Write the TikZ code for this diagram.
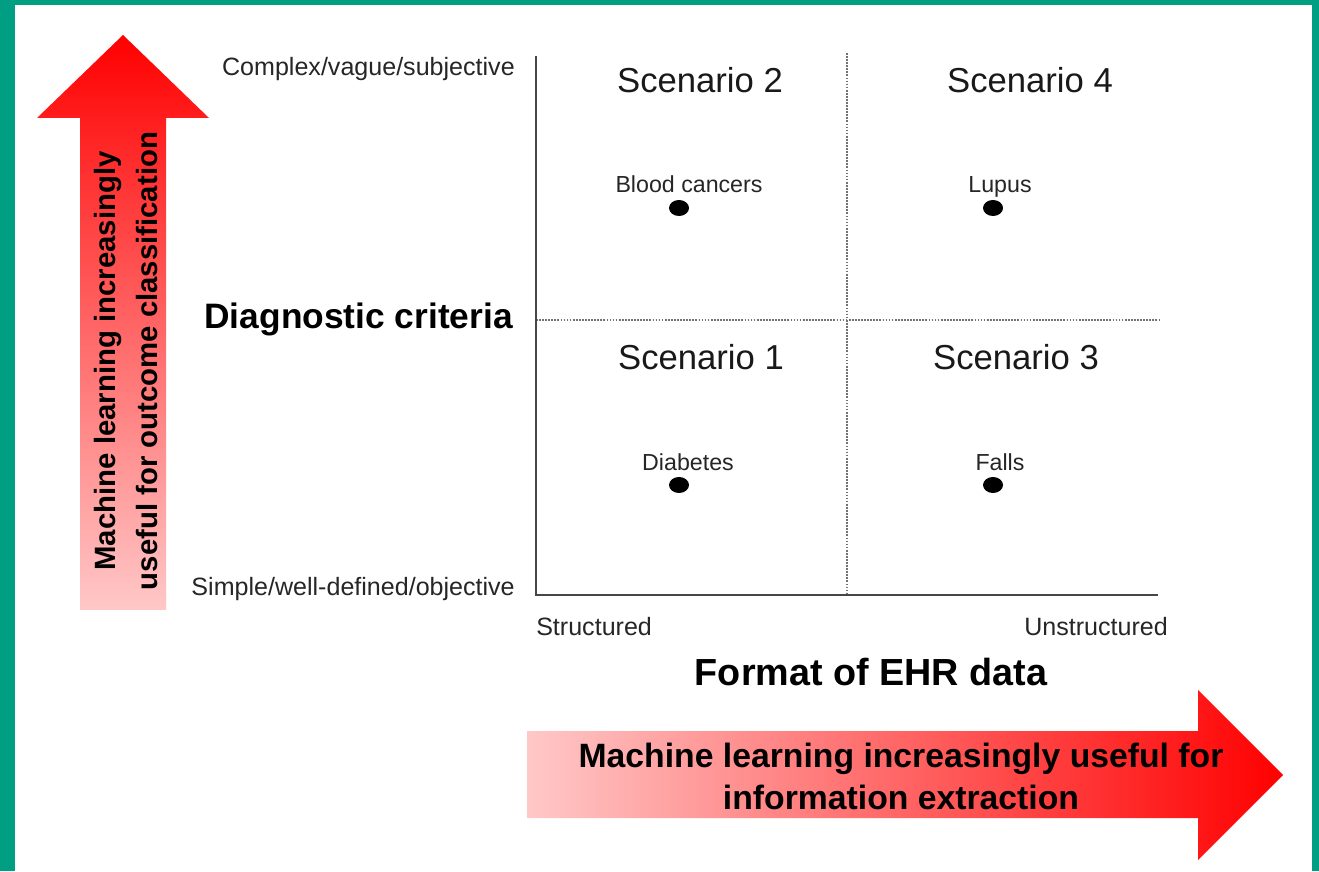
\documentclass[tikz,border=0pt]{standalone}
\usepackage{fontspec}
\setmainfont{Liberation Sans}
\usetikzlibrary{shapes.geometric}
\definecolor{frame}{RGB}{0,158,130}
\definecolor{pale}{RGB}{255,200,200}
\definecolor{axisgray}{RGB}{70,70,70}
\begin{document}
\begin{tikzpicture}[x=0.75pt,y=0.75pt,
  lbl/.style={inner sep=0pt, text=black!85, font=\fontsize{18.8}{22}\selectfont},
  pointlbl/.style={inner sep=0pt, anchor=base, text=black!85, font=\fontsize{17.4}{20}\selectfont},
  scen/.style={inner sep=0pt, text=black!90, font=\fontsize{26}{30}\selectfont},
  title/.style={inner sep=0pt, font=\bfseries\fontsize{26.5}{30}\selectfont},
  arrowtxt/.style={inner sep=0pt, align=center, font=\bfseries\fontsize{#1}{31.5}\selectfont},
  dot/.style={ellipse, fill=black, inner sep=0pt, minimum width=15pt, minimum height=12pt},
  axis/.style={draw=axisgray, line width=1.9pt},
  grid/.style={draw=black!55, line width=1.9pt, dash pattern=on 1.3pt off 1pt}]

% frame and background
\fill[frame] (0,0) rectangle (1319,871);
\fill[white] (15,0) rectangle (1312,866);
\useasboundingbox (0,0) rectangle (1319,871);

% vertical arrow: diagnostic complexity
\shade[top color=red, bottom color=pale]
  (80,261) -- (80,753) -- (37,753) -- (123,836) -- (209,753) -- (166,753) -- (166,261) -- cycle;
\node[arrowtxt=22, rotate=90] (vtxt) at (126,510)
  {Machine learning increasingly\\useful for outcome classification};

% horizontal arrow: data format
\shade[left color=pale, right color=red]
  (527,140) -- (1198,140) -- (1198,181) -- (1283,96) -- (1198,11) -- (1198,53) -- (527,53) -- cycle;
\node[arrowtxt=25.3] (htxt) at (901,95)
  {Machine learning increasingly useful for\\information extraction};

% axes and quadrant dividers
\coordinate (origin) at (536,276);
\coordinate (ytop) at (536,815);
\coordinate (xend) at (1158,276);
\coordinate (vtop) at (847,818);
\coordinate (vbot) at (847,276);
\coordinate (hl) at (536,551);
\coordinate (hr) at (1159,551);
\draw[grid] (vtop) -- (vbot);
\draw[grid] (hl) -- (hr);
\draw[axis] (ytop) -- (origin) -- (xend);

% axis labels
\node[lbl, anchor=east] (ycomplex) at (515,802) {Complex/vague/subjective};
\node[lbl, anchor=east] (ysimple) at (515,282) {Simple/well-defined/objective};
\node[title, anchor=east] (ytitle) at (513,552) {Diagnostic criteria};
\node[lbl, anchor=west] (xstruct) at (536,244) {Structured};
\node[lbl, anchor=east] (xunstruct) at (1168,244) {Unstructured};
\node[title, font=\bfseries\fontsize{28.3}{32}\selectfont] (xtitle) at (871,199) {Format of EHR data};

% quadrant titles
\node[scen] (s2) at (700,791) {Scenario 2};
\node[scen] (s4) at (1030,791) {Scenario 4};
\node[scen] (s1) at (701,514) {Scenario 1};
\node[scen] (s3) at (1016,514) {Scenario 3};

% example conditions
\node[dot] (blood) at (679,663) {};
\node[dot] (lupus) at (993,663) {};
\node[dot] (diab) at (679,386) {};
\node[dot] (falls) at (993,386) {};
\node[pointlbl] (bloodl) at (689,678) {Blood cancers};
\node[pointlbl] (lupusl) at (1000,678) {Lupus};
\node[pointlbl] (diabl) at (688,400) {Diabetes};
\node[pointlbl] (fallsl) at (1000,400) {Falls};
\end{tikzpicture}
\end{document}
